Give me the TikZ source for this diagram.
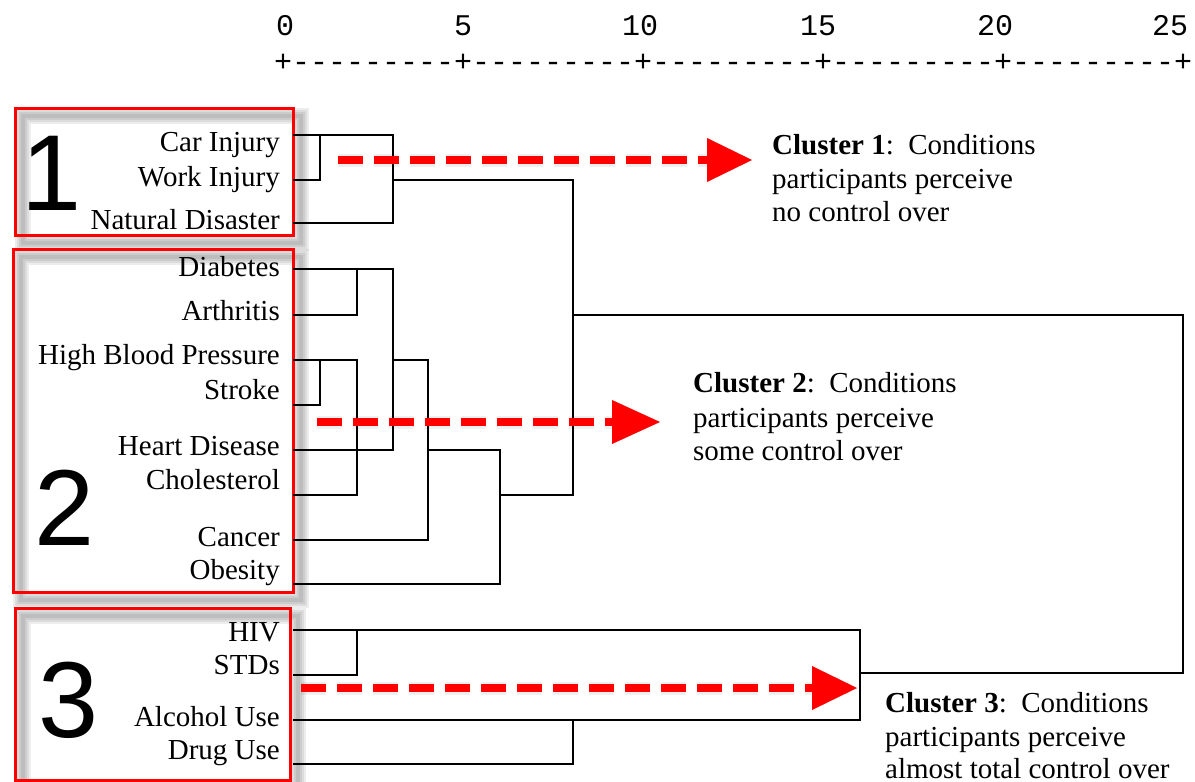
\documentclass[tikz,border=0pt]{standalone}
\usepackage{fontspec}
\setmainfont{Liberation Serif}
\newfontfamily\axisfont{Liberation Mono}
\newfontfamily\bigfont{Liberation Sans}
\begin{document}
\begin{tikzpicture}[x=1pt,y=-1pt,
  lbl/.style={anchor=base east, inner sep=0pt, font=\fontsize{29}{34}\selectfont},
  ctext/.style={anchor=base west, inner sep=0pt, font=\fontsize{29}{34}\selectfont},
  tree/.style={line width=1.8pt, black, line join=miter},
  redbox/.style={draw=red, line width=3pt},
  boxshadow/.style={draw=black, opacity=0.07},
  bigdigit/.style={anchor=base, inner sep=0pt, font=\bigfont\fontsize{108}{108}\selectfont},
  axisnum/.style={anchor=base, inner sep=0pt, font=\axisfont\fontsize{30}{30}\selectfont},
  reddash/.style={draw=red, line width=8pt, dash pattern=on 25pt off 11pt},
  shadowdash/.style={draw=black, dash pattern=on 25pt off 11pt},
]
\useasboundingbox (0,0) rectangle (1195,782);
\fill[white] (0,0) rectangle (1195,782);

% ---------- axis ----------
\node[axisnum] (t0) at (285,35) {0};
\node[axisnum] (t5) at (463,35) {5};
\node[axisnum] (t10) at (640,35) {10};
\node[axisnum] (t15) at (818,35) {15};
\node[axisnum] (t20) at (995,35) {20};
\node[axisnum] (t25) at (1170,35) {25};
\node[anchor=base west, inner sep=0pt, font=\axisfont\fontsize{30}{30}\selectfont] (axis) at (274,71)
  {+---------+---------+---------+---------+---------+};

% ---------- box shadows ----------
\foreach \w in {16,12,8,4} {
  \draw[boxshadow, line width=\w pt] (23,116) rectangle (301,243);
  \draw[boxshadow, line width=\w pt] (21,257) rectangle (301,600);
  \draw[boxshadow, line width=\w pt] (23,616) rectangle (298,790);
}

% ---------- red boxes ----------
\draw[redbox] (15,108) rectangle (293,235);
\draw[redbox] (13,249) rectangle (293,592);
\draw[redbox] (15,608) rectangle (290,780);

% ---------- big digits ----------
\node[bigdigit] (n1) at (52,210) {1};
\node[bigdigit] (n2) at (65,545) {2};
\node[bigdigit] (n3) at (69,737) {3};

% ---------- leaf labels ----------
\node[lbl] (car) at (280,151) {Car Injury};
\node[lbl] (work) at (280,186) {Work Injury};
\node[lbl] (nat) at (280,229) {Natural Disaster};
\node[lbl] (diab) at (280,276) {Diabetes};
\node[lbl] (arth) at (280,320) {Arthritis};
\node[lbl] (hbp) at (280,364) {High Blood Pressure};
\node[lbl] (stroke) at (280,399) {Stroke};
\node[lbl] (heart) at (280,455) {Heart Disease};
\node[lbl] (chol) at (280,489) {Cholesterol};
\node[lbl] (cancer) at (280,546) {Cancer};
\node[lbl] (obes) at (280,579) {Obesity};
\node[lbl] (hiv) at (280,641) {HIV};
\node[lbl] (std) at (280,674) {STDs};
\node[lbl] (alc) at (280,726) {Alcohol Use};
\node[lbl] (drug) at (280,759) {Drug Use};

% ---------- dendrogram ----------
\draw[tree] (293,135) -- (393,135) -- (393,223) -- (293,223);
\draw[tree] (320,135) -- (320,180) -- (293,180);
\draw[tree] (393,180) -- (573,180) -- (573,495) -- (500,495);
\draw[tree] (573,315) -- (1183,315) -- (1183,673) -- (860,673);
\draw[tree] (293,269) -- (393,269) -- (393,450) -- (293,450);
\draw[tree] (357,269) -- (357,315) -- (293,315);
\draw[tree] (293,360) -- (357,360) -- (357,495) -- (293,495);
\draw[tree] (320,360) -- (320,405) -- (293,405);
\draw[tree] (393,360) -- (428,360) -- (428,540) -- (293,540);
\draw[tree] (428,450) -- (500,450) -- (500,584) -- (293,584);
\draw[tree] (293,630) -- (860,630) -- (860,720) -- (293,720);
\draw[tree] (357,630) -- (357,675) -- (293,675);
\draw[tree] (573,720) -- (573,764) -- (293,764);

% ---------- arrows ----------
\coordinate (a1s) at (338,160); \coordinate (a1b) at (707,160); \coordinate (a1t) at (752,160);
\coordinate (a2s) at (317,422); \coordinate (a2b) at (612,422); \coordinate (a2t) at (660,422);
\coordinate (a3s) at (301,688); \coordinate (a3b) at (812,688); \coordinate (a3t) at (857,688);

\foreach \s/\b/\t in {a1s/a1b/a1t, a2s/a2b/a2t, a3s/a3b/a3t} {
  \begin{scope}[shift={(11,10)}]
    \draw[shadowdash, line width=13pt, opacity=0.06] (\s) -- (\b);
    \draw[shadowdash, line width=8pt, opacity=0.12] (\s) -- (\b);
    \fill[black, opacity=0.15] (\t) -- ([yshift=-22pt]\b) -- ([yshift=22pt]\b) -- cycle;
  \end{scope}
  \draw[reddash] (\s) -- (\b);
  \fill[red] (\t) -- ([yshift=-22pt]\b) -- ([yshift=22pt]\b) -- cycle;
}

% ---------- cluster texts ----------
\node[ctext] (c1a) at (772,154) {\textbf{Cluster 1}:\ \ Conditions};
\node[ctext] (c1b) at (772,188) {participants perceive};
\node[ctext] (c1c) at (772,221) {no control over};
\node[ctext] (c2a) at (693,392) {\textbf{Cluster 2}:\ \ Conditions};
\node[ctext] (c2b) at (693,427) {participants perceive};
\node[ctext] (c2c) at (693,460) {some control over};
\node[ctext] (c3a) at (885,712) {\textbf{Cluster 3}:\ \ Conditions};
\node[ctext] (c3b) at (885,746) {participants perceive};
\node[ctext] (c3c) at (885,778) {almost total control over};
\end{tikzpicture}
\end{document}
